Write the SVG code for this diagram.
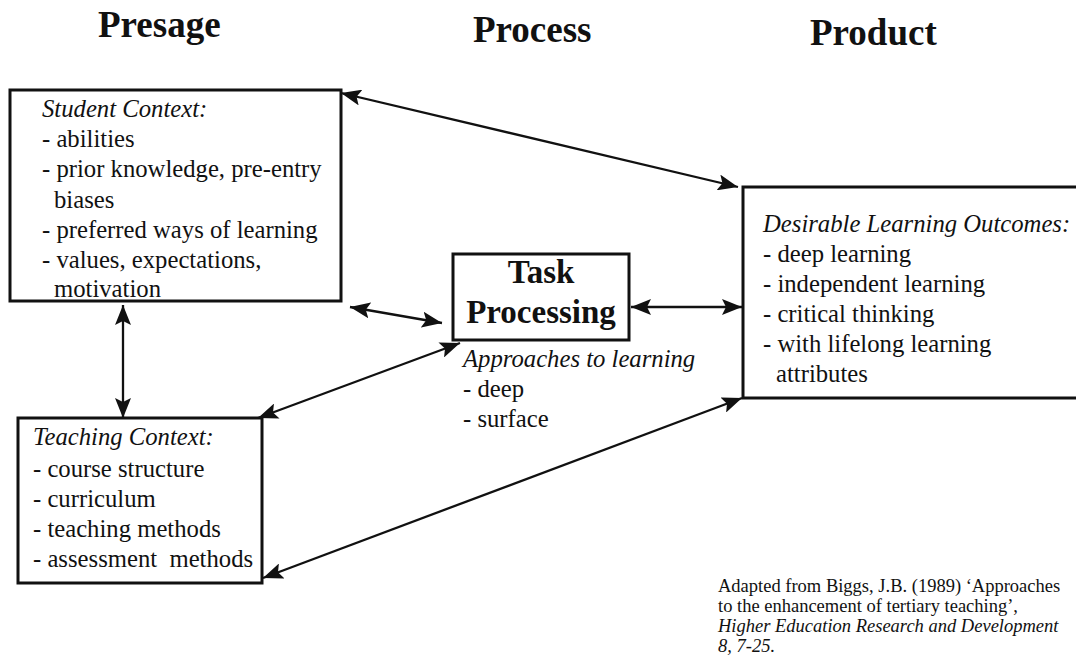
<svg xmlns="http://www.w3.org/2000/svg" width="1076" height="659" viewBox="0 0 1076 659">
  <style>
    text { font-family: "Liberation Serif", "Times New Roman", serif; fill: #111; }
    .head { font-weight: bold; font-size: 37px; }
    .lbl { font-size: 24.7px; }
    .ital { font-style: italic; }
    .task { font-weight: bold; font-size: 33px; }
    .cite { font-size: 18.5px; }
    .box { fill: #fff; stroke: #111; stroke-width: 3; }
    .link { fill: none; stroke: #111; stroke-width: 2.3; marker-start: url(#tip); marker-end: url(#tip); }
  </style>
  <defs>
    <!-- notched arrowhead used on both ends of every connector -->
    <marker id="tip" markerUnits="userSpaceOnUse" markerWidth="21" markerHeight="16" refX="20" refY="8" orient="auto-start-reverse">
      <path d="M0,0 L20,8 L0,16 L4,8 z" fill="#111"/>
    </marker>
  </defs>
  <rect width="1076" height="659" fill="#fff"/>

  <!-- column headings -->
  <g id="headings">
    <text class="head" x="98" y="37">Presage</text>
    <text class="head" x="473" y="42">Process</text>
    <text class="head" x="810" y="45">Product</text>
  </g>

  <!-- student context -->
  <g id="student-context">
    <rect class="box" x="10" y="90" width="331" height="211"/>
    <text class="lbl ital" x="42" y="117">Student Context:</text>
    <text class="lbl" x="42" y="147">- abilities</text>
    <text class="lbl" x="42" y="177">- prior knowledge, pre-entry</text>
    <text class="lbl" x="54" y="208">biases</text>
    <text class="lbl" x="42" y="238">- preferred ways of learning</text>
    <text class="lbl" x="42" y="268">- values, expectations,</text>
    <text class="lbl" x="54" y="297">motivation</text>
  </g>

  <!-- teaching context -->
  <g id="teaching-context">
    <rect class="box" x="18" y="418" width="244" height="165"/>
    <text class="lbl ital" x="33" y="445">Teaching Context:</text>
    <text class="lbl" x="33" y="477">- course structure</text>
    <text class="lbl" x="33" y="507">- curriculum</text>
    <text class="lbl" x="33" y="537">- teaching methods</text>
    <text class="lbl" x="33" y="567" xml:space="preserve">- assessment  methods</text>
  </g>

  <!-- task processing -->
  <g id="task-processing">
    <rect class="box" x="453" y="254" width="176" height="86"/>
    <text class="task" x="541" y="283" text-anchor="middle">Task</text>
    <text class="task" x="541" y="323" text-anchor="middle">Processing</text>
    <text class="lbl ital" x="463" y="367">Approaches to learning</text>
    <text class="lbl" x="463" y="397">- deep</text>
    <text class="lbl" x="463" y="427">- surface</text>
  </g>

  <!-- learning outcomes (box runs off the right edge) -->
  <g id="learning-outcomes">
    <rect class="box" x="743" y="187" width="345" height="211"/>
    <text class="lbl ital" x="763" y="232">Desirable Learning Outcomes:</text>
    <text class="lbl" x="763" y="262">- deep learning</text>
    <text class="lbl" x="763" y="292">- independent learning</text>
    <text class="lbl" x="763" y="322">- critical thinking</text>
    <text class="lbl" x="763" y="352">- with lifelong learning</text>
    <text class="lbl" x="776" y="382">attributes</text>
  </g>

  <!-- connectors -->
  <g id="connectors">
    <line class="link" x1="341" y1="93" x2="738" y2="187"/>
    <line class="link" x1="350" y1="307" x2="442" y2="323"/>
    <line class="link" x1="631" y1="307" x2="742" y2="307"/>
    <line class="link" x1="258" y1="418" x2="460" y2="343"/>
    <line class="link" x1="263" y1="578" x2="742" y2="398"/>
    <line class="link" x1="123" y1="305" x2="123" y2="418"/>
  </g>

  <!-- source note -->
  <g id="source-note">
    <text class="cite" x="718" y="592">Adapted from Biggs, J.B. (1989) ‘Approaches</text>
    <text class="cite" x="718" y="612">to the enhancement of tertiary teaching’,</text>
    <text class="cite ital" x="718" y="632">Higher Education Research and Development</text>
    <text class="cite ital" x="718" y="652">8, 7-25.</text>
  </g>
</svg>
